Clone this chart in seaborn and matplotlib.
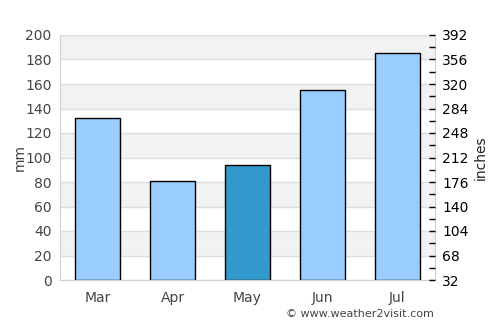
import matplotlib
matplotlib.use('Agg')
import matplotlib.pyplot as plt
import seaborn as sns
import pandas as pd
from matplotlib.ticker import MultipleLocator

months = ['Mar', 'Apr', 'May', 'Jun', 'Jul']
rain_mm = [132, 81, 94, 155, 185]
bar_colors = ['#99ccff', '#99ccff', '#3399cc', '#99ccff', '#99ccff']
left_ticks = [0, 20, 40, 60, 80, 100, 120, 140, 160, 180, 200]
right_labels = [32, 68, 104, 140, 176, 212, 248, 284, 320, 356, 392]

df = pd.DataFrame({'month': months, 'mm': rain_mm})

sns.set_style('white')
plt.rcParams['font.family'] = ['DejaVu Sans']

fig = plt.figure(figsize=(5, 3.25), dpi=100)
ax = fig.add_axes([60 / 500, 45 / 325, 375 / 500, 245 / 325])

# alternating background bands
for lo in range(20, 200, 40):
    ax.axhspan(lo, lo + 20, color='#f2f2f2', zorder=0, lw=0)
for t in left_ticks:
    ax.axhline(t, color='#dddddd', lw=1, zorder=0.5)

sns.barplot(data=df, x='month', y='mm', hue='month', palette=bar_colors,
            legend=False, width=0.6, edgecolor='black', linewidth=1,
            saturation=1, ax=ax, zorder=2)

ax.set_xlim(-0.5, 4.5)
ax.set_ylim(0, 200)
ax.set_yticks(left_ticks)
ax.set_xlabel('')
ax.set_ylabel('mm', color='#444444', fontsize=10, va='center')
ax.yaxis.set_label_coords(-40 / 375, 0.5)
ax.tick_params(axis='y', colors='#444444', labelsize=10, length=0, pad=6)
ax.tick_params(axis='x', colors='#444444', labelsize=10, length=0, pad=8)
for s in ['left', 'bottom', 'right']:
    ax.spines[s].set_color('#d0d0d0')
ax.spines['top'].set_visible(False)

ax2 = ax.twinx()
ax2.set_ylim(0, 200)
ax2.set_yticks(left_ticks)
ax2.set_yticklabels([str(v) for v in right_labels])
ax2.yaxis.set_minor_locator(MultipleLocator(10))
ax2.tick_params(axis='y', which='both', direction='in', length=4, width=1,
                colors='black', labelsize=10, pad=5)
ax2.set_ylabel('inches', fontsize=10, color='#222222', va='center')
ax2.yaxis.set_label_coords(1 + 46 / 375, 0.5)
for s in ax2.spines.values():
    s.set_visible(False)

fig.text(0.72, 0.035, '\u00a9 www.weather2visit.com', ha='center', va='center',
         fontsize=8, color='#444444')

fig.savefig('out.png', dpi=100)
